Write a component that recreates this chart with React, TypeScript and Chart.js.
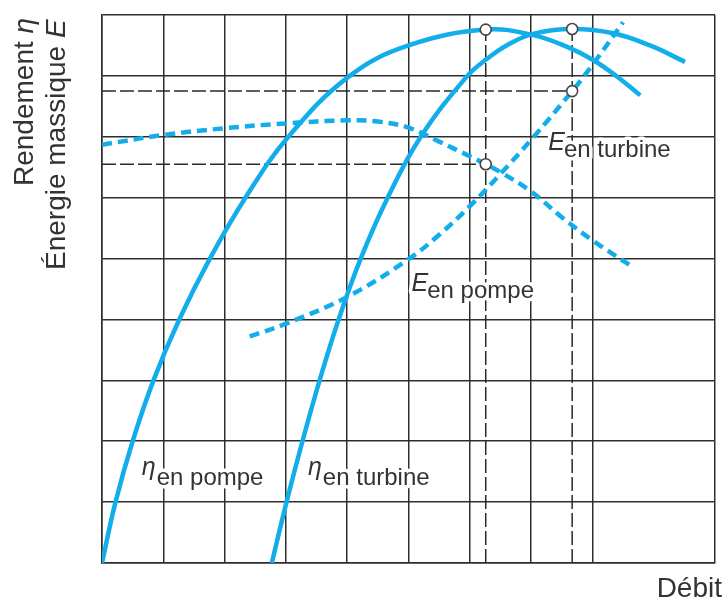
import { useEffect, useRef } from 'react';
import { Chart, registerables } from 'chart.js';

Chart.register(...registerables);

// ---- data (x: débit in grid units, y: rendement / énergie in grid units) ----
const xGridLines = [0, 1, 2, 3, 4, 5, 6, 7, 8, 10];
const yGridLines = [0, 1, 2, 3, 4, 5, 6, 7, 8, 9];

const etaPompeX = [0, 0.22, 0.5, 0.84, 1.26, 1.76, 2.34, 3.04, 4.04, 5.0, 6.26, 7.03, 7.58, 8.01, 8.4, 8.78];
const etaPompeY = [0, 1, 2, 3, 4, 5, 6, 7, 8, 8.5, 8.76, 8.67, 8.48, 8.26, 7.99, 7.68];

const etaTurbX = [2.77, 3.01, 3.27, 3.55, 3.86, 4.22, 4.66, 5.2, 5.96, 6.28, 6.6, 7.03, 7.67, 8.34, 8.94, 9.51];
const etaTurbY = [0, 1, 2, 3, 4, 5, 6, 7, 8, 8.28, 8.5, 8.69, 8.77, 8.7, 8.5, 8.23];

const eTurbX = [2.41, 3.0, 4.0, 5.0, 5.5, 6.0, 6.5, 7.0, 7.67, 8.0, 8.5];
const eTurbY = [3.72, 3.93, 4.37, 4.99, 5.39, 5.86, 6.39, 6.95, 7.75, 8.18, 8.88];

const ePompeX = [0, 1, 2, 3, 4, 4.5, 5, 5.5, 6, 6.26, 6.5, 7, 7.5, 8, 8.6];
const ePompeY = [6.87, 7.03, 7.14, 7.22, 7.27, 7.25, 7.15, 6.92, 6.68, 6.55, 6.42, 6.1, 5.68, 5.3, 4.9];

// best efficiency points
const bepX = [6.26, 7.67, 7.67, 6.26];
const bepY = [8.76, 8.77, 7.75, 6.55];

// construction lines: [x1, y1, x2, y2]
const guideLines = [
  [0, 7.75, 7.67, 7.75],
  [0, 6.55, 6.26, 6.55],
  [6.26, 0, 6.26, 8.76],
  [7.67, 0, 7.67, 8.77],
];

// curve labels: [symbol, subscript, x, y (baseline of symbol)]
const curveLabels: [string, string, number, number][] = [
  ['η', 'en pompe', 0.65, 1.445],
  ['η', 'en turbine', 3.36, 1.445],
  ['E', 'en pompe', 5.05, 4.47],
  ['E', 'en turbine', 7.28, 6.78],
];

const CURVE_COLOR = 'rgb(18,173,235)';
const INK = '#333333';
const GRID = '#2e2e2e';
const FONT = "'Liberation Sans', Arial, Helvetica, sans-serif";

const zip = (xs: number[], ys: number[]) => xs.map((x, i) => ({ x, y: ys[i] }));

function drawLabels(chart: any) {
  const { ctx, scales } = chart;
  ctx.save();
  ctx.textBaseline = 'alphabetic';
  ctx.textAlign = 'left';
  ctx.lineJoin = 'round';
  for (const [sym, sub, xv, yv] of curveLabels) {
    const px = scales.x.getPixelForValue(xv);
    const py = scales.y.getPixelForValue(yv);
    ctx.font = `italic 25px ${FONT}`;
    const w = ctx.measureText(sym).width;
    ctx.strokeStyle = '#fff';
    ctx.lineWidth = 7;
    ctx.strokeText(sym, px, py);
    ctx.font = `24px ${FONT}`;
    const sx = px + w + (sym === 'η' ? 1 : -1);
    const sy = py + (sym === 'η' ? 10 : 7);
    ctx.strokeText(sub, sx, sy);
    ctx.fillStyle = INK;
    ctx.font = `italic 25px ${FONT}`;
    ctx.fillText(sym, px, py);
    ctx.font = `24px ${FONT}`;
    ctx.fillText(sub, sx, sy);
  }
  ctx.restore();
}

function drawAxisTitles(chart: any) {
  const { ctx } = chart;
  ctx.save();
  ctx.fillStyle = INK;
  ctx.textBaseline = 'alphabetic';
  // x title
  ctx.font = `28px ${FONT}`;
  ctx.textAlign = 'right';
  ctx.fillText('Débit', 722, 597);
  // y title (two lines, rotated)
  const line = (parts: [string, boolean][], bx: number, by: number) => {
    ctx.save();
    ctx.translate(bx, by);
    ctx.rotate(-Math.PI / 2);
    ctx.textAlign = 'left';
    let x = 0;
    for (const [t, it] of parts) {
      ctx.font = `${it ? 'italic ' : ''}28px ${FONT}`;
      ctx.fillText(t, x, 0);
      x += ctx.measureText(t).width;
    }
    ctx.restore();
  };
  line([['Rendement ', false], ['η', true]], 33, 186);
  line([['Énergie massique ', false], ['E', true]], 65, 270);
  ctx.restore();
}

const labelPlugin = {
  id: 'curveLabels',
  beforeDraw(chart: any) {
    chart.$labelsDone = false;
  },
  beforeDatasetDraw(chart: any, args: any) {
    if (chart.$labelsDone) return;
    const ds = chart.data.datasets[args.index];
    if (!ds.isCurve) return;
    drawLabels(chart);
    chart.$labelsDone = true;
  },
  afterDraw(chart: any) {
    drawAxisTitles(chart);
  },
};

export default function App() {
  const ref = useRef<HTMLCanvasElement | null>(null);

  useEffect(() => {
    if (!ref.current) return;
    const guideSets = guideLines.map(([x1, y1, x2, y2]) => ({
      data: [{ x: x1, y: y1 }, { x: x2, y: y2 }],
      showLine: true,
      borderColor: '#2a2a2a',
      borderWidth: 1.5,
      borderDash: [14, 4],
      pointRadius: 0,
      order: 3,
    }));
    const curve = (xs: number[], ys: number[], dashed: boolean) => ({
      data: zip(xs, ys),
      showLine: true,
      borderColor: CURVE_COLOR,
      borderWidth: 4.5,
      borderDash: dashed ? [10, 6] : [],
      borderCapStyle: 'butt',
      tension: 0.4,
      pointRadius: 0,
      order: 1,
      isCurve: true,
    });
    const chart = new Chart(ref.current, {
      type: 'scatter',
      data: {
        datasets: [
          {
            data: zip(bepX, bepY),
            pointRadius: 5.5,
            pointBackgroundColor: '#ffffff',
            pointBorderColor: '#444',
            pointBorderWidth: 1.6,
            showLine: false,
            order: 0,
          },
          curve(etaPompeX, etaPompeY, false),
          curve(etaTurbX, etaTurbY, false),
          curve(eTurbX, eTurbY, true),
          curve(ePompeX, ePompeY, true),
          ...guideSets,
        ] as any,
      },
      options: {
        animation: false,
        responsive: false,
        maintainAspectRatio: false,
        devicePixelRatio: 1,
        layout: { padding: { left: 102, top: 15, right: 9, bottom: 38 }, autoPadding: false },
        plugins: { legend: { display: false }, tooltip: { enabled: false }, title: { display: false } },
        events: [],
        scales: {
          x: {
            type: 'linear',
            min: 0,
            max: 10,
            afterBuildTicks: (axis: any) => {
              axis.ticks = xGridLines.map((v) => ({ value: v }));
            },
            ticks: { display: false },
            grid: { color: GRID, lineWidth: 1.5, drawTicks: false },
            border: { display: true, color: GRID, width: 1.5 },
          },
          y: {
            type: 'linear',
            min: 0,
            max: 9,
            afterBuildTicks: (axis: any) => {
              axis.ticks = yGridLines.map((v) => ({ value: v }));
            },
            ticks: { display: false },
            grid: { color: GRID, lineWidth: 1.5, drawTicks: false },
            border: { display: true, color: GRID, width: 1.5 },
          },
        },
      } as any,
      plugins: [labelPlugin],
    });
    return () => chart.destroy();
  }, []);

  return (
    <div style={{ position: 'fixed', left: 0, top: 0, width: 724, height: 601, background: '#fff' }}>
      <canvas ref={ref} width={724} height={601} style={{ display: 'block', width: 724, height: 601 }} />
    </div>
  );
}
